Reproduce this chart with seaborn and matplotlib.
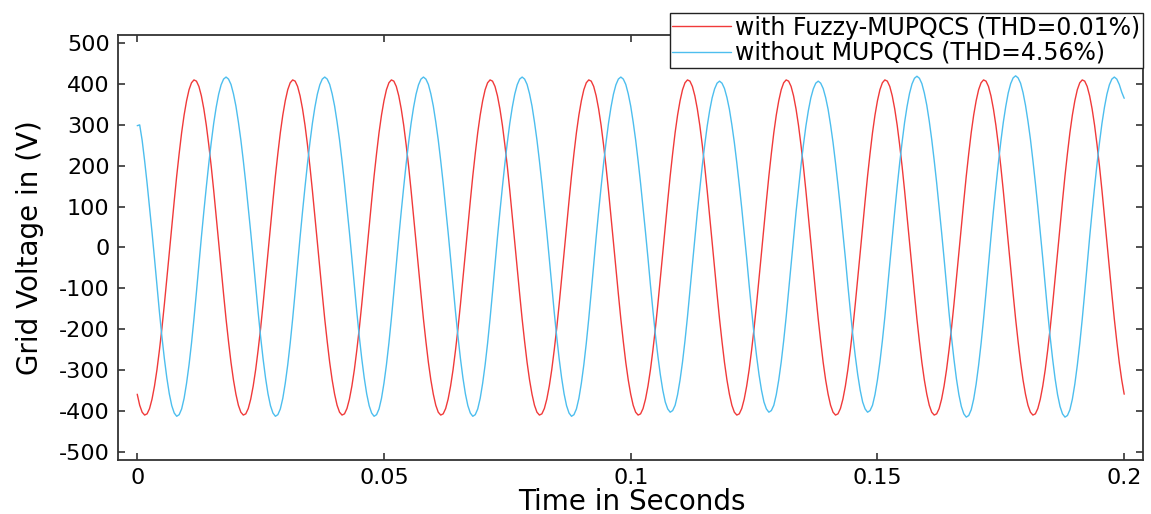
import numpy as np
import pandas as pd
import matplotlib
matplotlib.use("Agg")
import matplotlib.pyplot as plt
import seaborn as sns

time_s = np.round(np.arange(401) * 0.0005, 4)

# with Fuzzy-MUPQCS (clean 50 Hz sine, ~410 V peak); one row per 10 ms
v_fuzzy = [
    -359, -386, -403, -410, -407, -394, -371, -339, -299, -251, -198, -139, -77, -13, 51, 114, 175, 230, 281, 324,
    359, 386, 403, 410, 407, 394, 371, 339, 299, 251, 198, 139, 77, 13, -51, -114, -175, -230, -281, -324,
    -359, -386, -403, -410, -407, -394, -371, -339, -299, -251, -198, -139, -77, -13, 51, 114, 175, 230, 281, 324,
    359, 386, 403, 410, 407, 394, 371, 339, 299, 251, 198, 139, 77, 13, -51, -114, -175, -230, -281, -324,
    -359, -386, -403, -410, -407, -394, -371, -339, -299, -251, -198, -139, -77, -13, 51, 114, 175, 230, 281, 324,
    359, 386, 403, 410, 407, 394, 371, 339, 299, 251, 198, 139, 77, 13, -51, -114, -175, -230, -281, -324,
    -359, -386, -403, -410, -407, -394, -371, -339, -299, -251, -198, -139, -77, -13, 51, 114, 175, 230, 281, 324,
    359, 386, 403, 410, 407, 394, 371, 339, 299, 251, 198, 139, 77, 13, -51, -114, -175, -230, -281, -324,
    -359, -386, -403, -410, -407, -394, -371, -339, -299, -251, -198, -139, -77, -13, 51, 114, 175, 230, 281, 324,
    359, 386, 403, 410, 407, 394, 371, 339, 299, 251, 198, 139, 77, 13, -51, -114, -175, -230, -281, -324,
    -359, -386, -403, -410, -407, -394, -371, -339, -299, -251, -198, -139, -77, -13, 51, 114, 175, 230, 281, 324,
    359, 386, 403, 410, 407, 394, 371, 339, 299, 251, 198, 139, 77, 13, -51, -114, -175, -230, -281, -324,
    -359, -386, -403, -410, -407, -394, -371, -339, -299, -251, -198, -139, -77, -13, 51, 114, 175, 230, 281, 324,
    359, 386, 403, 410, 407, 394, 371, 339, 299, 251, 198, 139, 77, 13, -51, -114, -175, -230, -281, -324,
    -359, -386, -403, -410, -407, -394, -371, -339, -299, -251, -198, -139, -77, -13, 51, 114, 175, 230, 281, 324,
    359, 386, 403, 410, 407, 394, 371, 339, 299, 251, 198, 139, 77, 13, -51, -114, -175, -230, -281, -324,
    -359, -386, -403, -410, -407, -394, -371, -339, -299, -251, -198, -139, -77, -13, 51, 114, 175, 230, 281, 324,
    359, 386, 403, 410, 407, 394, 371, 339, 299, 251, 198, 139, 77, 13, -51, -114, -175, -230, -281, -324,
    -359, -386, -403, -410, -407, -394, -371, -339, -299, -251, -198, -139, -77, -13, 51, 114, 175, 230, 281, 324,
    359, 386, 403, 410, 407, 394, 371, 339, 299, 251, 198, 139, 77, 13, -51, -114, -175, -230, -281, -324,
    -359,
]

# without MUPQCS (distorted, peaks vary a bit from cycle to cycle); one row per 10 ms
v_without = [
    298, 300, 262, 212, 157, 98, 37, -27, -94, -158, -218, -272, -319, -358, -387, -405, -413, -409, -395, -369,
    -332, -287, -234, -174, -109, -41, 25, 88, 148, 205, 257, 304, 343, 375, 398, 412, 417, 412, 399, 376,
    346, 307, 263, 212, 157, 98, 37, -27, -94, -158, -218, -272, -319, -358, -387, -405, -413, -409, -395, -369,
    -332, -287, -234, -174, -109, -41, 25, 88, 148, 205, 257, 304, 343, 375, 398, 412, 417, 412, 399, 376,
    346, 307, 263, 212, 157, 98, 37, -27, -94, -158, -218, -272, -319, -358, -387, -405, -413, -409, -395, -369,
    -332, -287, -234, -174, -109, -41, 25, 88, 148, 205, 257, 304, 343, 375, 398, 412, 417, 412, 399, 376,
    346, 307, 263, 212, 157, 98, 37, -27, -94, -158, -218, -272, -319, -358, -387, -405, -413, -409, -395, -369,
    -332, -287, -234, -174, -109, -41, 25, 88, 148, 205, 257, 304, 343, 375, 398, 412, 417, 412, 399, 376,
    346, 307, 263, 212, 157, 98, 37, -27, -94, -158, -218, -272, -319, -358, -387, -405, -413, -409, -395, -369,
    -332, -287, -234, -174, -109, -41, 25, 88, 148, 205, 257, 304, 343, 375, 398, 412, 417, 412, 399, 376,
    346, 307, 263, 212, 157, 98, 37, -26, -92, -154, -213, -265, -311, -349, -378, -395, -403, -399, -386, -360,
    -324, -280, -228, -170, -106, -40, 24, 86, 144, 200, 251, 297, 335, 366, 388, 402, 407, 402, 389, 367,
    338, 300, 257, 207, 153, 96, 36, -26, -92, -154, -213, -265, -311, -349, -378, -395, -403, -399, -386, -360,
    -324, -280, -228, -170, -106, -40, 24, 86, 144, 200, 251, 297, 335, 366, 388, 402, 407, 402, 389, 367,
    338, 300, 257, 207, 153, 96, 36, -26, -92, -154, -213, -265, -311, -349, -378, -395, -403, -399, -386, -360,
    -324, -280, -228, -170, -106, -40, 25, 88, 149, 206, 258, 306, 345, 377, 400, 414, 419, 414, 401, 378,
    348, 309, 264, 213, 158, 98, 37, -27, -94, -159, -219, -273, -321, -360, -389, -407, -415, -411, -397, -371,
    -334, -288, -235, -175, -110, -41, 25, 89, 149, 206, 259, 306, 345, 378, 401, 415, 420, 415, 402, 379,
    348, 309, 265, 213, 158, 99, 37, -27, -94, -159, -219, -273, -321, -360, -389, -407, -415, -411, -397, -371,
    -334, -288, -235, -175, -110, -41, 25, 88, 148, 205, 257, 304, 343, 375, 398, 412, 417, 412, 399, 380,
    365,
]

series_labels = ["with Fuzzy-MUPQCS (THD=0.01%)", "without MUPQCS (THD=4.56%)"]
x_ticks = [0, 0.05, 0.1, 0.15, 0.2]
x_tick_labels = ["0", "0.05", "0.1", "0.15", "0.2"]
y_ticks = [-500, -400, -300, -200, -100, 0, 100, 200, 300, 400, 500]
y_tick_labels = ["-500", "-400", "-300", "-200", "-100", "0", "100", "200", "300", "400", "500"]

df = pd.concat([
    pd.DataFrame({"time": time_s, "voltage": v_fuzzy, "series": series_labels[0]}),
    pd.DataFrame({"time": time_s, "voltage": v_without, "series": series_labels[1]}),
])

sns.set_theme(style="white")
plt.rcParams["font.family"] = ["DejaVu Sans"]
plt.rcParams["axes.unicode_minus"] = False
plt.rcParams["text.color"] = "black"

fig = plt.figure(figsize=(11.51, 5.14), dpi=100)
ax = fig.add_axes([0.1025, 0.105, 0.8905, 0.827])

sns.lineplot(data=df, x="time", y="voltage", hue="series", estimator=None,
             palette=["#f03a3a", "#4dbeee"], linewidth=1.0, ax=ax, sort=False)

ax.set_xlim(-0.0039, 0.2038)
ax.set_ylim(-520, 520)
ax.set_xticks(x_ticks)
ax.set_xticklabels(x_tick_labels)
ax.set_yticks(y_ticks)
ax.set_yticklabels(y_tick_labels)
ax.tick_params(direction="in", length=5, width=1.2, color="#333333",
               labelsize=16, labelcolor="black", top=True, right=True,
               bottom=True, left=True)
ax.tick_params(axis="y", pad=6)
ax.tick_params(axis="x", pad=6)
for s in ax.spines.values():
    s.set_color("#333333")
    s.set_linewidth(1.3)

ax.set_xlabel("Time in Seconds", fontsize=20, color="black")
ax.xaxis.set_label_coords(0.501, -0.066)
ax.set_ylabel("Grid Voltage in (V)", fontsize=20, color="black")
ax.yaxis.set_label_coords(-0.072, 0.5)

handles, labels = ax.get_legend_handles_labels()
leg = ax.legend(handles, labels, loc="upper right", bbox_to_anchor=(1.0, 1.052),
                fontsize=17, frameon=True, fancybox=False, shadow=False,
                handlelength=2.5, handletextpad=0.15, labelspacing=0.05,
                borderpad=0.12, borderaxespad=0.0)
leg.get_frame().set_edgecolor("#222222")
leg.get_frame().set_linewidth(1.0)
leg.get_frame().set_alpha(1.0)
for txt in leg.get_texts():
    txt.set_color("black")
leg.set_zorder(10)

fig.savefig("out.png", dpi=100)
